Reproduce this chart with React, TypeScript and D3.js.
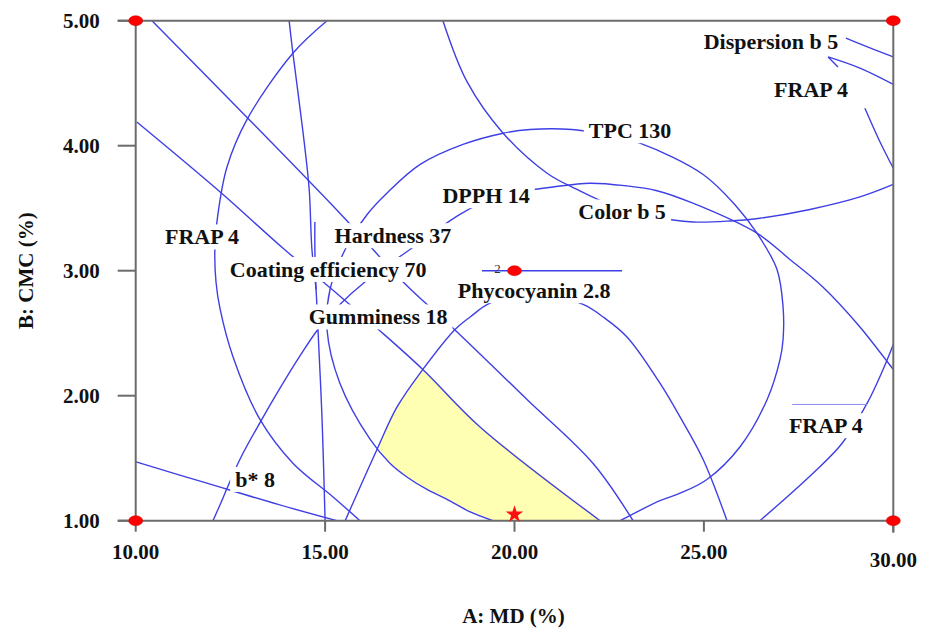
import React from 'react';
import * as d3 from 'd3';

type P = [number, number];

// Axis ticks
const xTicks = [10, 15, 20, 25, 30];
const yTicks = [1, 2, 3, 4, 5];
const xTickLabels = ['10.00', '15.00', '20.00', '25.00', '30.00'];
const yTickLabels = ['1.00', '2.00', '3.00', '4.00', '5.00'];

// Contour lines (A: MD %, B: CMC %)
const gumminess18: P[] = [[10.43, 5.0], [15.39, 3.46], [17.06, 2.91], [18.38, 2.54], [20.33, 1.97], [22.07, 1.46], [23.13, 1.0]];
const coatingEff70: P[] = [[10.03, 4.19], [12.23, 3.63], [13.89, 3.18], [15.34, 2.81], [16.37, 2.54], [17.58, 2.21], [19.09, 1.75], [22.26, 1.0]];
const hardness37: P[] = [[14.05, 5.0], [14.15, 4.74], [14.42, 4.1], [14.58, 3.65], [14.65, 3.18], [14.76, 2.85], [14.81, 2.54], [14.92, 1.81], [15.0, 1.0]];
const hardnessHook: P[] = [[14.73, 3.39], [14.73, 3.17], [14.76, 2.85]];
const frap4Left: P[] = [[15.05, 5.0], [14.15, 4.74], [12.94, 4.21], [12.41, 3.83], [12.17, 3.45], [12.09, 3.17], [12.12, 2.91], [12.23, 2.69], [12.57, 2.31], [13.28, 1.81], [14.15, 1.46], [15.21, 1.19], [15.92, 1.0]];
const bStar8: P[] = [[10.01, 1.47], [11.88, 1.3], [13.76, 1.13], [15.31, 1.0]];
const dpph14: P[] = [[12.04, 1.0], [12.23, 1.13], [12.75, 1.49], [13.33, 1.81], [13.81, 2.06], [14.34, 2.32], [14.81, 2.53], [15.39, 2.73], [16.05, 2.91], [17.24, 3.17], [18.56, 3.45], [19.35, 3.57], [20.15, 3.63], [21.02, 3.67], [21.99, 3.7], [22.92, 3.68], [23.76, 3.64], [24.71, 3.54], [26.4, 3.3], [27.27, 3.09], [28.14, 2.87], [29.12, 2.55], [30.0, 2.21]];
const colorB5: P[] = [[18.11, 5.0], [18.75, 4.51], [19.7, 4.1], [20.86, 3.78], [21.65, 3.65], [22.52, 3.53], [23.58, 3.44], [24.71, 3.39], [25.77, 3.4], [26.48, 3.42], [27.8, 3.49], [29.12, 3.59], [30.0, 3.69]];
const tpc130: P[] = [[19.43, 1.0], [18.83, 1.07], [18.22, 1.17], [17.69, 1.25], [17.16, 1.35], [16.71, 1.46], [16.19, 1.65], [15.39, 2.1], [15.05, 2.53], [15.13, 2.85], [15.53, 3.17], [16.11, 3.45], [16.63, 3.62], [17.51, 3.85], [18.64, 4.01], [19.7, 4.1], [20.41, 4.13], [21.52, 4.13], [22.39, 4.09], [23.31, 4.02], [24.98, 3.77], [25.87, 3.51], [26.4, 3.3], [26.93, 3.01], [27.09, 2.71], [27.09, 2.45], [27.01, 2.29], [26.67, 1.97], [25.95, 1.59], [25.08, 1.33], [24.37, 1.22], [23.84, 1.16], [22.79, 1.0]];
const phycocyanin28: P[] = [[15.53, 1.0], [16.37, 1.57], [16.9, 1.91], [17.58, 2.21], [18.43, 2.53], [18.83, 2.63], [19.35, 2.74], [20.54, 2.83], [21.81, 2.73], [22.34, 2.63], [22.97, 2.47], [23.84, 2.1], [24.37, 1.83], [24.98, 1.49], [25.61, 1.0]];
const centerFlat: P[] = [[19.14, 3.0], [22.84, 3.0]];
const frap4Right: P[] = [[30.0, 2.41], [29.73, 2.21], [29.31, 1.94], [28.65, 1.62], [27.88, 1.38], [26.48, 1.0]];
const frapRightLeader: P[] = [[27.33, 1.93], [29.31, 1.93]];
const dispersionB5: P[] = [[28.75, 4.86], [29.07, 4.82], [30.0, 4.71]];
const frap4Top: P[] = [[28.28, 4.71], [29.12, 4.62], [30.0, 4.49]];
const frapTopHook: P[] = [[28.28, 4.71], [28.54, 4.63]];
const frap4TopRight: P[] = [[29.25, 4.3], [29.65, 4.03], [30.0, 3.82]];

const contours: P[][] = [gumminess18, coatingEff70, hardness37, hardnessHook, frap4Left, bStar8, dpph14, colorB5, tpc130, phycocyanin28, centerFlat, frap4Right, dispersionB5, frap4Top, frapTopHook, frap4TopRight];

// Feasible (overlay) region
const sweetSpot: P[] = [[17.58, 2.21], [19.09, 1.75], [22.26, 1.0], [19.43, 1.0], [18.83, 1.07], [18.22, 1.17], [17.69, 1.25], [17.16, 1.35], [16.71, 1.46], [16.4, 1.59], [16.9, 1.91]];

// Contour labels
const labelTexts = ['Dispersion b 5', 'FRAP 4', 'TPC 130', 'Color b 5', 'DPPH 14', 'Hardness 37', 'FRAP 4', 'Coating efficiency 70', 'Phycocyanin 2.8', 'Gumminess 18', 'b* 8', 'FRAP 4'];
const labelA = [26.77, 27.83, 23.05, 22.84, 19.25, 16.79, 11.75, 15.08, 20.52, 16.4, 13.15, 28.22];
const labelB = [4.77, 4.39, 4.06, 3.41, 3.54, 3.22, 3.21, 2.95, 2.78, 2.57, 1.27, 1.7];

const designPoints: P[] = [[10, 5], [30, 5], [10, 1], [30, 1], [20, 3]];
const optimum: P = [20, 1.05];

const FONT = "'Times New Roman', 'Liberation Serif', serif";

function measure(text: string, size: number): number {
  const c = document.createElement('canvas').getContext('2d');
  if (!c) return text.length * size * 0.5;
  c.font = `bold ${size}px 'Liberation Serif'`;
  return c.measureText(text).width;
}

export default function App() {
  const W = 926, H = 633;
  const x = d3.scaleLinear().domain([10, 30]).range([135.7, 893.3]);
  const y = d3.scaleLinear().domain([1, 5]).range([520.7, 20.7]);
  const line = d3.line<P>().x(d => x(d[0])).y(d => y(d[1])).curve(d3.curveCatmullRom.alpha(0.5));
  const poly = d3.line<P>().x(d => x(d[0])).y(d => y(d[1])).curve(d3.curveLinearClosed);
  const star = d3.symbol().type(d3.symbolStar).size(95)();
  const axisColor = '#6b6b6b';
  const blue = '#3f3fe6';
  const lblSize = 22;
  const x0 = x(10), x1 = x(30), yTop = y(5), yBot = y(1);

  return (
    <svg width={W} height={H} style={{ position: 'absolute', left: 0, top: 0, background: '#fff' }}>
      <defs>
        <clipPath id="plotClip">
          <rect x={x0} y={yTop} width={x1 - x0} height={yBot - yTop} />
        </clipPath>
      </defs>
      <rect x={0} y={0} width={W} height={H} fill="#fff" />
      <g clipPath="url(#plotClip)">
        <path d={poly(sweetSpot) || ''} fill="#ffffb4" stroke="none" />
        {contours.map((c, i) => (
          <path key={i} d={line(c) || ''} fill="none" stroke={blue} strokeWidth={1.4} />
        ))}
        <path d={line(frapRightLeader) || ''} fill="none" stroke="#8a8af0" strokeWidth={1} />
        {labelTexts.map((t, i) => {
          const w = measure(t, lblSize);
          const cx = x(labelA[i]), by = y(labelB[i]);
          return (
            <g key={i}>
              <rect x={cx - w / 2 - 5} y={by - 20} width={w + 10} height={25} fill="#fff" />
              <text x={cx} y={by} textAnchor="middle" fontFamily={FONT} fontWeight="bold" fontSize={lblSize} fill="#111">{t}</text>
            </g>
          );
        })}
        <text x={x(19.55)} y={y(2.98)} textAnchor="middle" fontFamily={FONT} fontSize={13} fill="#333">2</text>
      </g>
      {/* axes frame */}
      <line x1={x0} x2={x0} y1={yTop} y2={yBot} stroke={axisColor} strokeWidth={2} />
      <line x1={x1} x2={x1} y1={yTop} y2={yBot + 12} stroke={axisColor} strokeWidth={2} />
      <line x1={x0 - 18} x2={x1} y1={yTop} y2={yTop} stroke={axisColor} strokeWidth={2} />
      <line x1={x0 - 18} x2={x1} y1={yBot} y2={yBot} stroke={axisColor} strokeWidth={2} />
      {yTicks.map(t => (
        <line key={'yt' + t} x1={x0 - 18} x2={x0} y1={y(t)} y2={y(t)} stroke={axisColor} strokeWidth={2} />
      ))}
      {xTicks.map(t => (
        <line key={'xt' + t} x1={x(t)} x2={x(t)} y1={yBot} y2={yBot + 11} stroke={axisColor} strokeWidth={2} />
      ))}
      {yTicks.map((t, i) => (
        <text key={'yl' + t} x={x0 - 36} y={y(t) + 7} textAnchor="end" fontFamily={FONT} fontWeight="bold" fontSize={21} fill="#111">{yTickLabels[i]}</text>
      ))}
      {xTicks.map((t, i) => (
        <text key={'xl' + t} x={x(t)} y={t === 30 ? yBot + 46 : yBot + 38} textAnchor="middle" fontFamily={FONT} fontWeight="bold" fontSize={21} fill="#111">{xTickLabels[i]}</text>
      ))}
      {/* design points */}
      {designPoints.map((p, i) => (
        <ellipse key={'dp' + i} cx={x(p[0])} cy={y(p[1])} rx={7} ry={5} fill="#ff0000" stroke="#cc0000" strokeWidth={0.5} />
      ))}
      <path d={star || ''} transform={`translate(${x(optimum[0])},${y(optimum[1])})`} fill="#ff1010" />
      {/* axis titles */}
      <text x={(x0 + x1) / 2 - 1} y={623} textAnchor="middle" fontFamily={FONT} fontWeight="bold" fontSize={21} fill="#111">A: MD (%)</text>
      <text transform={`translate(33,${(yTop + yBot) / 2}) rotate(-90)`} textAnchor="middle" fontFamily={FONT} fontWeight="bold" fontSize={21} fill="#111">B: CMC (%)</text>
    </svg>
  );
}
